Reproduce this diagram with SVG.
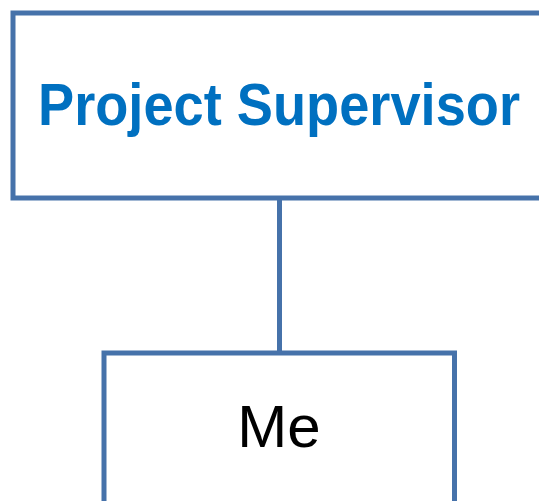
<svg xmlns="http://www.w3.org/2000/svg" width="539" height="501" viewBox="0 0 539 501">
<style>
.box{fill:#ffffff;stroke:#4672AA;stroke-width:5}
.conn{stroke:#4672AA;stroke-width:5;fill:none}
.t1{font-family:"Liberation Sans",Arial,sans-serif;font-weight:bold;fill:#0070C0}
.t2{font-family:"Liberation Sans",Arial,sans-serif;fill:#000000}
</style>
<rect width="539" height="501" fill="#ffffff"/>
<g id="connectors">
<line class="conn" x1="279.5" y1="198" x2="279.5" y2="353"/>
</g>
<g id="node-supervisor">
<rect class="box" x="13" y="13" width="540" height="185"/>
<text class="t1" x="38" y="125" font-size="60" textLength="482" lengthAdjust="spacingAndGlyphs">Project Supervisor</text>
</g>
<g id="node-me">
<rect class="box" x="104" y="353" width="350.5" height="170"/>
<text class="t2" x="279" y="447" font-size="60" text-anchor="middle">Me</text>
</g>
</svg>
